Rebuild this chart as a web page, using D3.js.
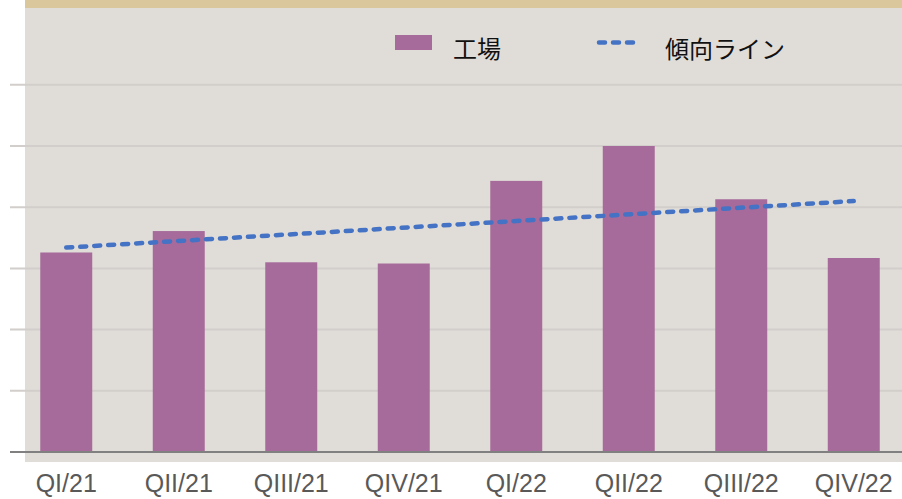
<!DOCTYPE html>
<html>
<head>
<meta charset="utf-8">
<script src="https://cdn.jsdelivr.net/npm/d3@7"></script>
<style>
  body { margin: 0; background: #ffffff; }
  svg { display: block; }
</style>
</head>
<body>
<script>
// data
const quarters = ["QI/21", "QII/21", "QIII/21", "QIV/21", "QI/22", "QII/22", "QIII/22", "QIV/22"];
const factory = [3.26, 3.61, 3.10, 3.08, 4.43, 5.00, 4.13, 3.17];
// trend line end points (first and last quarter)
const trendQuarters = ["QI/21", "QIV/22"];
const trendValues = [3.34, 4.10];
const gridTicks = [1, 2, 3, 4, 5, 6];
const legendLabels = ["工場", "傾向ライン"];

const width = 902;
const height = 499;
const baseY = 452;

const xScale = d3.scaleBand().domain(quarters).range([10, 910])
    .paddingInner(0.538).paddingOuter(0.269);
const yScale = d3.scaleLinear().domain([0, 6]).range([baseY, baseY - 6 * 61.2]);

const svg = d3.select("body").append("svg")
    .attr("width", width)
    .attr("height", height)
    .attr("viewBox", [0, 0, width, height]);

// plot background + top band
svg.append("rect").attr("x", 25).attr("y", 0).attr("width", width - 25).attr("height", 462)
    .attr("fill", "#e0ddd8");
svg.append("rect").attr("x", 25).attr("y", 0).attr("width", width - 25).attr("height", 8)
    .attr("fill", "#dac89c");

// gridlines
svg.append("g")
    .selectAll("line")
    .data(gridTicks)
    .enter()
    .append("line")
    .attr("x1", 10)
    .attr("x2", width)
    .attr("y1", d => yScale(d))
    .attr("y2", d => yScale(d))
    .attr("stroke", "#d2cecb")
    .attr("stroke-width", 2);

// bars
svg.append("g")
    .selectAll("rect")
    .data(factory)
    .enter()
    .append("rect")
    .attr("x", (d, i) => xScale(quarters[i]))
    .attr("y", d => yScale(d))
    .attr("width", xScale.bandwidth())
    .attr("height", d => yScale(0) - yScale(d))
    .attr("fill", "#a66b9a");

// x axis line + labels
const ax = svg.append("g")
    .attr("transform", `translate(0,${baseY})`)
    .call(d3.axisBottom(xScale).tickSize(0).tickPadding(22));
ax.select(".domain").remove();
ax.append("line").attr("x1", 10).attr("x2", width).attr("y1", 0).attr("y2", 0)
    .attr("stroke", "#808080").attr("stroke-width", 2);
ax.selectAll("text")
    .attr("fill", "#595959")
    .style("font-family", "'Liberation Sans', Arial, sans-serif")
    .style("font-size", "25px");

// trend line
const line = d3.line()
    .x((d, i) => xScale(trendQuarters[i]) + xScale.bandwidth() / 2)
    .y(d => yScale(d));
svg.append("path")
    .datum(trendValues)
    .attr("d", line)
    .attr("fill", "none")
    .attr("stroke", "#4472c4")
    .attr("stroke-width", 4.5)
    .attr("stroke-linecap", "round")
    .attr("stroke-dasharray", "6,8");

// legend
const lg = svg.append("g").style("font-family", "'Noto Sans CJK JP', sans-serif")
    .style("font-size", "24px").attr("fill", "#111");
lg.append("rect").attr("x", 395).attr("y", 35).attr("width", 37).attr("height", 15)
    .attr("fill", "#a66b9a");
lg.append("text").attr("x", 453).attr("y", 58).text(legendLabels[0]);
lg.append("line").attr("x1", 599).attr("x2", 636).attr("y1", 42.5).attr("y2", 42.5)
    .attr("stroke", "#4472c4").attr("stroke-width", 4.5)
    .attr("stroke-linecap", "round").attr("stroke-dasharray", "6,8");
lg.append("text").attr("x", 665).attr("y", 58).text(legendLabels[1]);
</script>
</body>
</html>
